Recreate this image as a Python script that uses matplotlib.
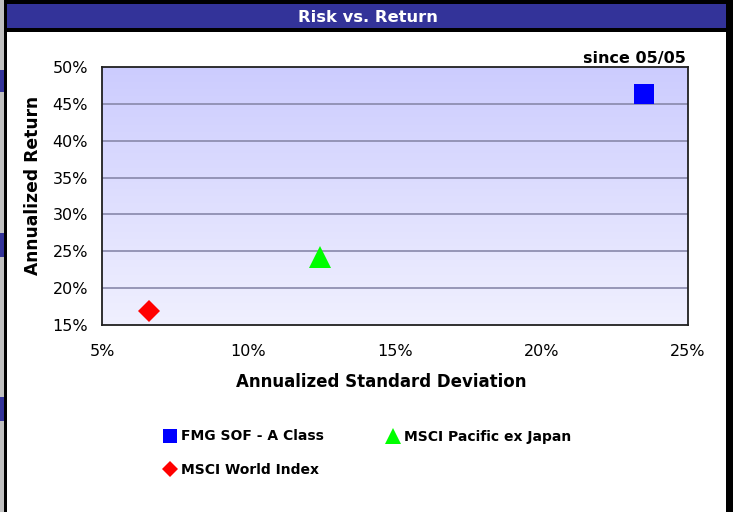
import numpy as np
import matplotlib
matplotlib.use('Agg')
import matplotlib.pyplot as plt
from matplotlib.lines import Line2D
from matplotlib.patches import Rectangle
from matplotlib.ticker import FuncFormatter

# data
names = ['FMG SOF - A Class', 'MSCI Pacific ex Japan', 'MSCI World Index']
risk = [23.5, 12.45, 6.6]      # annualized std dev, %
ret = [46.3, 24.2, 16.9]       # annualized return, %
markers = ['s', '^', 'D']
colors = ['#0000ff', '#00ff00', '#ff0000']
sizes = [14, 16, 11.5]
xticks = [5, 10, 15, 20, 25]
yticks = [15, 20, 25, 30, 35, 40, 45, 50]

plt.rcParams['font.family'] = ['DejaVu Sans']

W, H = 733, 512
fig = plt.figure(figsize=(W / 100, H / 100), dpi=100)
fig.patch.set_facecolor('white')

def fx(px):
    return px / W

def fy(py):
    return 1 - py / H

# frame decorations (pixel-based)
deco = [
    (0, 0, 4, 512, '#c0c0c0'),
    (0, 70, 4, 22, '#333399'),
    (0, 233, 4, 24, '#333399'),
    (0, 397, 4, 24, '#333399'),
    (4, 0, 3, 512, '#000000'),
    (7, 0, 726, 4, '#000000'),
    (7, 4, 720, 24, '#333399'),
    (7, 28, 720, 4, '#000000'),
    (726, 0, 7, 512, '#000000'),
]
for x0, y0, w, h, c in deco:
    fig.patches.append(Rectangle((fx(x0), fy(y0 + h)), w / W, h / H,
                                 transform=fig.transFigure, color=c, lw=0, zorder=0))

fig.text(fx(368), fy(17), 'Risk vs. Return', color='white', fontsize=11.8,
         fontweight='bold', ha='center', va='center')
fig.text(fx(686), fy(58), 'since 05/05', color='black', fontsize=11.5,
         fontweight='bold', ha='right', va='center')

# axes
ax = fig.add_axes([fx(102), fy(325), (688 - 102) / W, (325 - 67) / H])
ax.set_xlim(5, 25)
ax.set_ylim(15, 50)

grad = np.linspace(0, 1, 256).reshape(-1, 1)
top = np.array([204, 204, 255]) / 255
bot = np.array([240, 240, 254]) / 255
img = top * (1 - grad[..., None]) + bot * grad[..., None]
img = img.reshape(256, 1, 3)
ax.imshow(img, extent=[5, 25, 15, 50], aspect='auto', origin='upper', zorder=0)

for y in yticks[1:-1]:
    ax.axhline(y, color='#8888aa', lw=1.2, zorder=1)

for s in ax.spines.values():
    s.set_color('#202020')
    s.set_linewidth(1.3)

for n, xv, yv, m, c, sz in zip(names, risk, ret, markers, colors, sizes):
    ax.plot([xv], [yv], linestyle='none', marker=m, color=c,
            markersize=sz, markeredgewidth=0, zorder=3, label=n)

ax.set_xticks(xticks)
ax.set_yticks(yticks)
pct = FuncFormatter(lambda v, p: '%d%%' % v)
ax.xaxis.set_major_formatter(pct)
ax.yaxis.set_major_formatter(pct)
ax.tick_params(length=0, labelsize=11.5)
ax.tick_params(axis='x', pad=14)
ax.tick_params(axis='y', pad=10)

ax.set_xlabel('Annualized Standard Deviation', fontsize=12, fontweight='bold')
ax.set_ylabel('Annualized Return', fontsize=12.3, fontweight='bold')
ax.xaxis.label.set_va('center')
ax.yaxis.label.set_va('center')
ax.xaxis.set_label_coords((381 - 102) / 586, (325 - 382) / 258)
ax.yaxis.set_label_coords((33 - 102) / 586, (325 - 185) / 258)

leg_handles = [Line2D([], [], linestyle='none', marker=m, color=c,
                      markersize=sz * 0.68, markeredgewidth=0)
               for m, c, sz in zip(markers, colors, sizes)]
order = [0, 2, 1]
fig.legend([leg_handles[i] for i in order], [names[i] for i in order],
           ncol=2, loc='upper left', bbox_to_anchor=(fx(153), fy(417)),
           frameon=False, handlelength=0.6, handletextpad=0.5,
           columnspacing=4.7, labelspacing=1.4,
           prop={'weight': 'bold', 'size': 10})

fig.savefig('out.png', dpi=100)
